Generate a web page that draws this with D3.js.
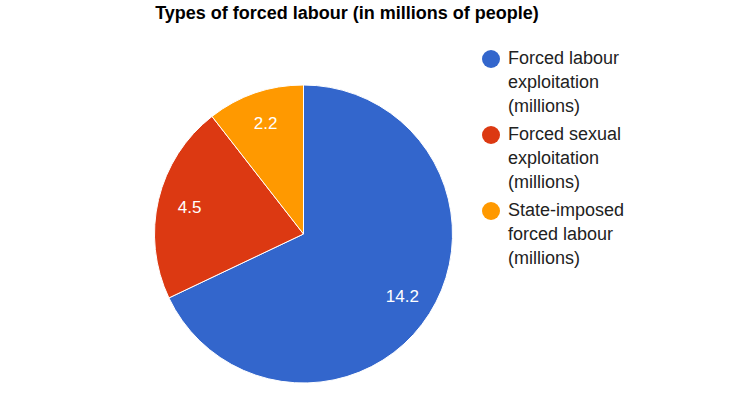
<!DOCTYPE html>
<html>
<head>
    <style>
        body { margin: 0; background: #fff; }
        text { font-family: Arial, "Liberation Sans", sans-serif; }
    </style>
</head>
<body>
    <script src="https://d3js.org/d3.v7.min.js"></script>
    <script>
        // Data
        var categories = ["Forced labour exploitation (millions)",
                          "Forced sexual exploitation (millions)",
                          "State-imposed forced labour (millions)"];
        var values = [14.2, 4.5, 2.2];
        var legendLines = [["Forced labour", "exploitation", "(millions)"],
                           ["Forced sexual", "exploitation", "(millions)"],
                           ["State-imposed", "forced labour", "(millions)"]];
        var colors = ["#3366cc", "#dc3912", "#ff9900"];

        var width = 729, height = 394;
        var cx = 303.5, cy = 234, radius = 149;

        var svg = d3.select("body").append("svg")
            .attr("width", width)
            .attr("height", height);

        // Title
        svg.append("text")
            .attr("x", 347)
            .attr("y", 19)
            .attr("text-anchor", "middle")
            .style("font-size", "18px")
            .style("font-weight", "bold")
            .attr("fill", "#000")
            .text("Types of forced labour (in millions of people)");

        var pie = d3.pie().sort(null).value(function (d) { return d; });
        var arcs = pie(values);

        var arc = d3.arc().innerRadius(0).outerRadius(radius);
        var labelArc = d3.arc().innerRadius(117 * 2 - 1).outerRadius(1);
        // label position at ~117px from centre
        var labelPos = function (d) {
            var a = (d.startAngle + d.endAngle) / 2;
            return [Math.sin(a) * 117, -Math.cos(a) * 117];
        };

        var g = svg.append("g")
            .attr("transform", "translate(" + cx + "," + cy + ")");

        g.selectAll(".slice")
            .data(arcs)
            .enter().append("path")
            .attr("class", "slice")
            .attr("d", arc)
            .attr("fill", function (d, i) { return colors[i]; })
            .attr("stroke", "#fff")
            .attr("stroke-width", 1);

        g.selectAll(".label")
            .data(arcs)
            .enter().append("text")
            .attr("class", "label")
            .attr("transform", function (d) {
                return "translate(" + labelPos(d) + ")";
            })
            .attr("dy", "0.35em")
            .attr("text-anchor", "middle")
            .style("font-size", "17px")
            .attr("fill", "#fff")
            .text(function (d) { return d.data; });

        // Legend
        var legend = svg.selectAll(".legend")
            .data(categories)
            .enter().append("g")
            .attr("class", "legend")
            .attr("transform", function (d, i) {
                return "translate(491," + (59 + i * 76) + ")";
            });

        legend.append("circle")
            .attr("r", 9)
            .attr("fill", function (d, i) { return colors[i]; });

        legend.append("text")
            .attr("x", 17)
            .attr("y", 5)
            .style("font-size", "18px")
            .attr("fill", "#222")
            .selectAll("tspan")
            .data(function (d, i) { return legendLines[i]; })
            .enter().append("tspan")
            .attr("x", 17)
            .attr("dy", function (d, j) { return j === 0 ? 0 : 24; })
            .text(function (d) { return d; });
    </script>
</body>
</html>
